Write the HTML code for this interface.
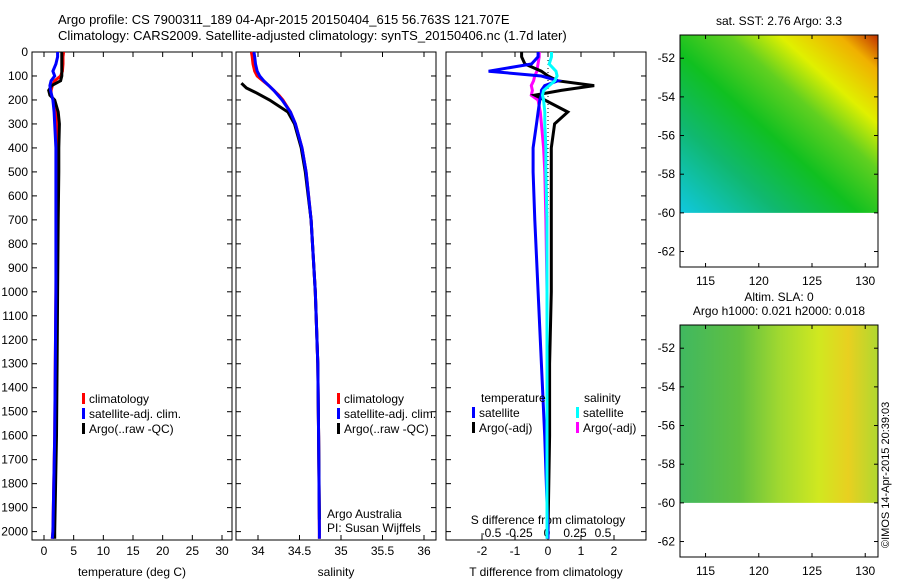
<!DOCTYPE html>
<html><head><meta charset="utf-8"><style>
body{margin:0;background:#fff;width:900px;height:580px;overflow:hidden;font-family:"Liberation Sans",sans-serif}
svg text{font-family:"Liberation Sans",sans-serif;font-size:12px;fill:#000}
</style></head><body>
<svg id="c" width="900" height="580">
<defs>
<linearGradient id="sst" x1="0" y1="1" x2="1" y2="0">
<stop offset="0" stop-color="#10c8e0"/><stop offset="0.25" stop-color="#10b870"/><stop offset="0.45" stop-color="#10c020"/><stop offset="0.62" stop-color="#60d020"/><stop offset="0.75" stop-color="#e0f000"/><stop offset="0.9" stop-color="#f0b000"/><stop offset="1" stop-color="#c03000"/></linearGradient>
<linearGradient id="sla" x1="0" y1="0" x2="1" y2="0">
<stop offset="0" stop-color="#40b860"/><stop offset="0.3" stop-color="#60c040"/><stop offset="0.5" stop-color="#a0d830"/><stop offset="0.7" stop-color="#d0e820"/><stop offset="0.85" stop-color="#e8d020"/><stop offset="1" stop-color="#b0d830"/></linearGradient>
</defs>
<text x="58" y="24" style="font-size:13px">Argo profile: CS 7900311_189 04-Apr-2015 20150404_615 56.763S 121.707E</text>
<text x="58" y="40" style="font-size:13px">Climatology: CARS2009. Satellite-adjusted climatology: synTS_20150406.nc (1.7d later)</text>
<g id="g"></g>
</svg>
<script>
// ---- data ----
const depthTicks=[0,100,200,300,400,500,600,700,800,900,1000,1100,1200,1300,1400,1500,1600,1700,1800,1900,2000];
const tempTicks=[0,5,10,15,20,25,30];
const salTicks=[34,34.5,35,35.5,36];
const tdTicks=[-2,-1,0,1,2];
const sdTicks=[-0.5,-0.25,0,0.25,0.5];
const lonTicks=[115,120,125,130];
const latTicks=[-52,-54,-56,-58,-60,-62];
const depths=[0,20,50,80,100,120,140,160,180,200,250,300,400,500,700,1000,1300,1600,2000,2030];
const tClim=[3.3,3.2,3.2,3.1,2.8,1.8,1.4,1.2,1.2,1.6,2.0,2.1,2.1,2.1,2.1,2.0,1.9,1.8,1.5,1.4];
const tSat=[2.3,2.3,2.0,1.5,1.8,1.2,1.0,1.1,1.3,1.5,1.7,1.8,2.0,2.0,2.0,2.0,1.9,1.8,1.5,1.4];
const tArgo=[3.0,3.0,3.0,3.0,3.0,2.8,1.3,0.8,1.0,1.8,2.4,2.6,2.5,2.5,2.4,2.3,2.2,2.1,1.8,1.8];
const sClim=[33.92,33.93,33.94,33.96,33.99,34.06,34.13,34.19,34.25,34.30,34.39,34.45,34.53,34.58,34.64,34.69,34.72,34.73,34.74,34.74];
const sSat=[33.95,33.96,33.97,33.99,34.02,34.07,34.13,34.19,34.24,34.29,34.39,34.45,34.53,34.58,34.64,34.69,34.72,34.73,34.74,34.74];
const aDepths=[130,150,170,200,250,300,400,500,700,1000,1300,1600,1950];
const sArgo=[33.80,33.86,33.98,34.14,34.36,34.44,34.52,34.57,34.64,34.69,34.72,34.73,34.74];
const tdSat=[-0.3,-0.3,-0.5,-1.8,-0.2,0.3,-0.1,-0.2,-0.2,-0.25,-0.3,-0.35,-0.45,-0.45,-0.4,-0.3,-0.2,-0.1,0,0];
const tdArgo=[-0.8,-0.8,-0.7,-0.2,0,0.3,1.4,0.4,-0.4,-0.1,0.6,0.2,0.1,0.1,0.1,0.1,0.05,0.05,0,0];
const sdSat=[0.04,0.04,0.02,0.08,0.09,0.07,0.02,-0.03,-0.04,-0.03,-0.02,-0.02,-0.01,-0.01,0,0,0,0,0,0];
const sdArgo=[-0.07,-0.07,-0.08,-0.09,-0.11,-0.12,-0.14,-0.13,-0.14,-0.08,-0.06,-0.05,-0.03,-0.02,-0.01,0,0,0,0,0];
// ---- helpers ----
const NS="http://www.w3.org/2000/svg",G=document.getElementById('g');
function el(t,a,p){const e=document.createElementNS(NS,t);for(const k in a)e.setAttribute(k,a[k]);(p||G).appendChild(e);return e;}
const Y0=52,Y1=540,DMAX=2035;
const yD=d=>Y0+d/DMAX*(Y1-Y0);
function lin(d0,d1,r0,r1){return v=>r0+(v-d0)/(d1-d0)*(r1-r0);}
function panel(name,x0,x1,ticks,xs,label,labY,showDepth){
  const r=el('rect',{x:x0,y:Y0,width:x1-x0,height:Y1-Y0,fill:'#fff',stroke:'#000','stroke-width':1});
  
  depthTicks.forEach(d=>{const y=yD(d);el('line',{x1:x0,x2:x0+5,y1:y,y2:y,stroke:'#000'});el('line',{x1:x1-5,x2:x1,y1:y,y2:y,stroke:'#000'});
    if(showDepth){const t=el('text',{x:x0-4,y:y+4,'text-anchor':'end'});t.textContent=d;}});
  ticks.forEach(v=>{const x=xs(v);el('line',{x1:x,x2:x,y1:Y1,y2:Y1-5,stroke:'#000'});el('line',{x1:x,x2:x,y1:Y0,y2:Y0+5,stroke:'#000'});
    if(label!==null){const t=el('text',{x:x,y:Y1+15,'text-anchor':'middle'});t.textContent=v;}});
  if(label){const t=el('text',{x:(x0+x1)/2,y:labY,'text-anchor':'middle'});t.textContent=label;}
}
function line(name,ds,vs,xs,col,w){const p=ds.map((d,i)=>xs(vs[i]).toFixed(1)+','+yD(d).toFixed(1)).join(' ');
  const e=el('polyline',{points:p,fill:'none',stroke:col,'stroke-width':w||3});}
function legend(x,y,items){items.forEach((it,i)=>{el('rect',{x:x,y:y+i*15-10,width:3,height:11,fill:it[1]});const t=el('text',{x:x+7,y:y+i*15});t.textContent=it[0];});}
// temperature
const xT=lin(0,30,44,222);
panel('temperature',32,232,tempTicks,xT,'temperature (deg C)',576,true);
line('temp-clim',depths,tClim,xT,'#f00');line('temp-argo',depths,tArgo,xT,'#000');line('temp-sat',depths,tSat,xT,'#00f');
legend(82,403,[['climatology','#f00'],['satellite-adj. clim.','#00f'],['Argo(..raw -QC)','#000']]);
// salinity
const xS=lin(34,36,258,424);
panel('salinity',236,436,salTicks,xS,'salinity',576,false);
line('sal-clim',depths,sClim,xS,'#f00');line('sal-argo',aDepths,sArgo,xS,'#000');line('sal-sat',depths,sSat,xS,'#00f');
legend(337,403,[['climatology','#f00'],['satellite-adj. clim.','#00f'],['Argo(..raw -QC)','#000']]);
let t=el('text',{x:327,y:518});t.textContent='Argo Australia';
t=el('text',{x:327,y:532});t.textContent='PI: Susan Wijffels';
// differences
const xTD=lin(-2,2,482,614),xSD=lin(-0.5,0.5,491,603);
panel('t-diff',446,646,tdTicks,xTD,'T difference from climatology',576,false);
el('line',{x1:xTD(0),x2:xTD(0),y1:Y0,y2:Y1,stroke:'#000','stroke-dasharray':'1,3'});
sdTicks.forEach(v=>{const t=el('text',{x:xSD(v),y:537,'text-anchor':'middle'});t.textContent=v;});
t=el('text',{x:548,y:524,'text-anchor':'middle'});t.textContent='S difference from climatology';
line('sdiff-argo',depths,sdArgo,xSD,'#f0f');line('tdiff-argo',depths,tdArgo,xTD,'#000');line('tdiff-sat',depths,tdSat,xTD,'#00f');line('sdiff-sat',depths,sdSat,xSD,'#0ff');
t=el('text',{x:481,y:402});t.textContent='temperature';
t=el('text',{x:584,y:402});t.textContent='salinity';
legend(472,417,[['satellite','#00f'],['Argo(-adj)','#000']]);
legend(576,417,[['satellite','#0ff'],['Argo(-adj)','#f0f']]);
// maps
function map(name,y0,fill,title1,title2){
  const x0=680,x1=878,lon=lin(112.6,131.2,x0,x1),lat=lin(-50.8,-62.8,y0,y0+232);
  const m=el('rect',{x:x0,y:y0,width:x1-x0,height:lat(-60)-y0,fill:fill});
  el('rect',{x:x0,y:y0,width:x1-x0,height:232,fill:'none',stroke:'#000'});
  lonTicks.forEach(v=>{const x=lon(v);el('line',{x1:x,x2:x,y1:y0+232,y2:y0+228,stroke:'#000'});el('line',{x1:x,x2:x,y1:y0,y2:y0+4,stroke:'#000'});
    const t=el('text',{x:x,y:y0+250,'text-anchor':'middle'});t.textContent=v;});
  latTicks.forEach(v=>{const y=lat(v);el('line',{x1:x0,x2:x0+4,y1:y,y2:y,stroke:'#000'});el('line',{x1:x1-4,x2:x1,y1:y,y2:y,stroke:'#000'});
    const t=el('text',{x:x0-5,y:y+4,'text-anchor':'end'});t.textContent=v;});
  let t=el('text',{x:779,y:y0-10,'text-anchor':'middle'});t.textContent=title1;
  if(title2){t=el('text',{x:779,y:y0-24,'text-anchor':'middle'});t.textContent=title2;}
}
map('sst-map',35,'url(#sst)','sat. SST: 2.76 Argo: 3.3');
map('sla-map',325,'url(#sla)','Argo h1000: 0.021 h2000: 0.018','Altim. SLA: 0');
t=el('text',{x:0,y:0,transform:'translate(889,548) rotate(-90)',style:'font-size:11px'});t.textContent='©IMOS 14-Apr-2015 20:39:03';
</script>
</body></html>
